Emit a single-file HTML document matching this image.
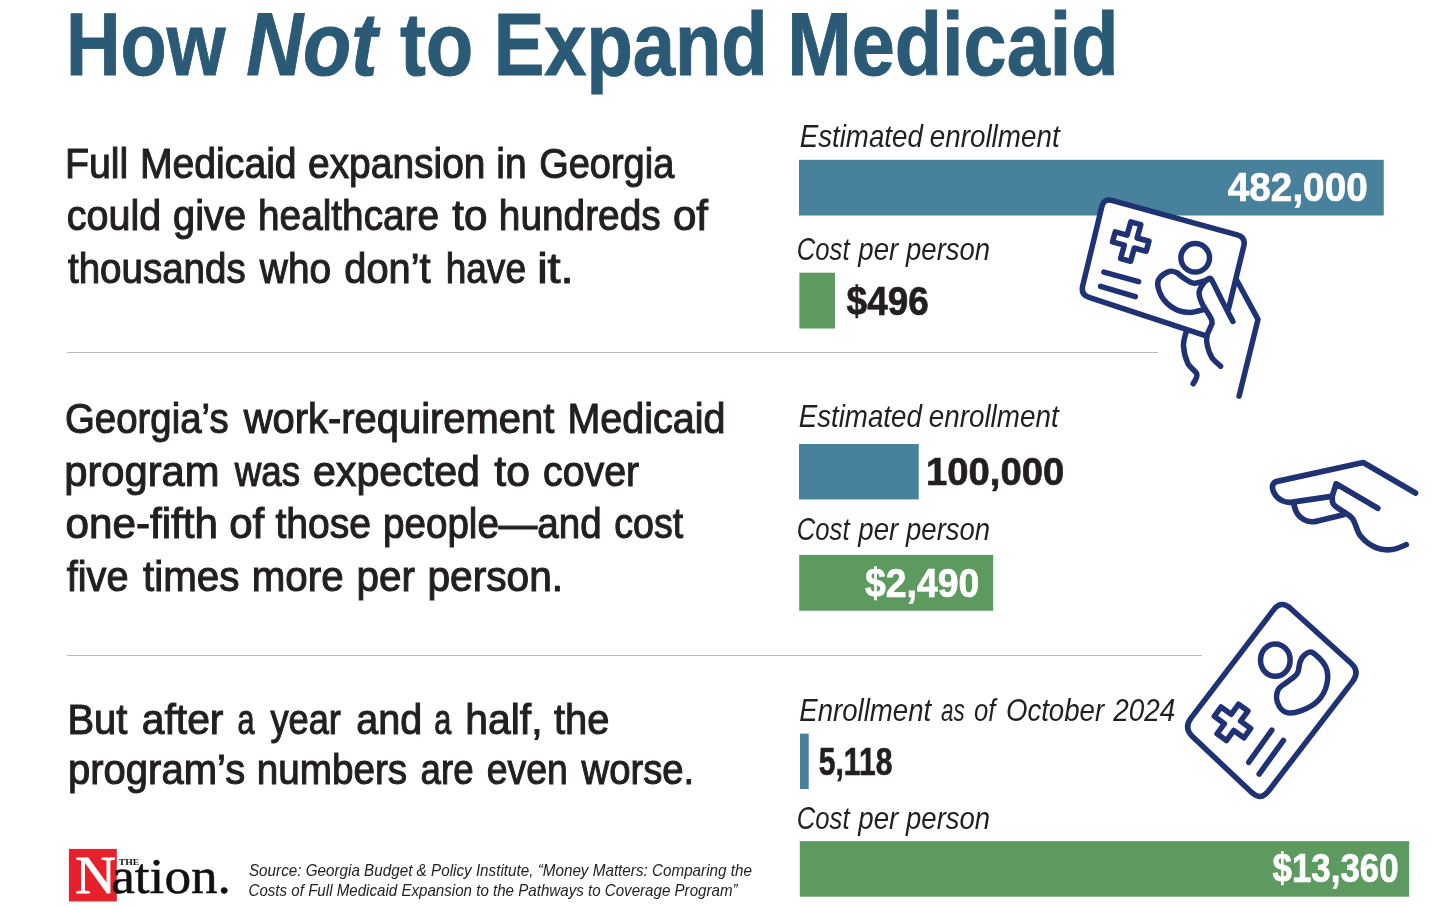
<!DOCTYPE html>
<html lang="en"><head><meta charset="utf-8"><title>How Not to Expand Medicaid</title>
<style>
html,body{margin:0;padding:0;background:#fff;}
body{width:1440px;height:907px;overflow:hidden;font-family:"Liberation Sans",sans-serif;}
svg{display:block}
text{white-space:pre}
</style></head><body>
<svg width="1440" height="907" viewBox="0 0 1440 907">
<rect width="1440" height="907" fill="#ffffff"/>

<g id="rules" stroke="#b9b9b9" stroke-width="1.2">
<line x1="67" y1="352.5" x2="1158" y2="352.5"/>
<line x1="67" y1="655.5" x2="1202" y2="655.5"/>
</g>
<g id="bars">
<rect x="799" y="159.8" width="584.75" height="55.70" fill="#47819b"/>
<rect x="799.4" y="272.7" width="35.60" height="55.80" fill="#5d9a5f"/>
<rect x="799" y="444" width="119.75" height="55.40" fill="#47819b"/>
<rect x="799.2" y="554.9" width="194.00" height="55.80" fill="#5d9a5f"/>
<rect x="800" y="733.6" width="8.70" height="55.40" fill="#47819b"/>
<rect x="799.8" y="841.1" width="609.40" height="55.60" fill="#5d9a5f"/>
</g>
<rect x="68.9" y="848.9" width="47.9" height="52.5" fill="#e6212b"/>

<g id="texts">
<text transform="translate(65.94 74.75) scale(0.8426 1)" font-family='"Liberation Sans", sans-serif' font-size="89.75" fill="#2b5a77" font-weight="700" stroke="#2b5a77" stroke-width="1.0">How</text>
<text transform="translate(246.21 74.75) scale(0.8780 1)" font-family='"Liberation Sans", sans-serif' font-size="89.75" fill="#2b5a77" font-weight="700" font-style="italic" stroke="#2b5a77" stroke-width="1.0">Not</text>
<text transform="translate(399.93 74.75) scale(0.8668 1)" font-family='"Liberation Sans", sans-serif' font-size="89.75" fill="#2b5a77" font-weight="700" stroke="#2b5a77" stroke-width="1.0">to</text>
<text transform="translate(493.68 74.75) scale(0.8451 1)" font-family='"Liberation Sans", sans-serif' font-size="89.75" fill="#2b5a77" font-weight="700" stroke="#2b5a77" stroke-width="1.0">Expand</text>
<text transform="translate(787.29 74.75) scale(0.8625 1)" font-family='"Liberation Sans", sans-serif' font-size="89.75" fill="#2b5a77" font-weight="700" stroke="#2b5a77" stroke-width="1.0">Medicaid</text>
<text transform="translate(64.93 177.55) scale(0.9178 1)" font-family='"Liberation Sans", sans-serif' font-size="42.88" fill="#231f20" stroke="#231f20" stroke-width="1.1">Full</text>
<text transform="translate(139.94 177.55) scale(0.9135 1)" font-family='"Liberation Sans", sans-serif' font-size="42.88" fill="#231f20" stroke="#231f20" stroke-width="1.1">Medicaid</text>
<text transform="translate(308.03 177.55) scale(0.9075 1)" font-family='"Liberation Sans", sans-serif' font-size="42.88" fill="#231f20" stroke="#231f20" stroke-width="1.1">expansion</text>
<text transform="translate(496.31 177.55) scale(0.9103 1)" font-family='"Liberation Sans", sans-serif' font-size="42.88" fill="#231f20" stroke="#231f20" stroke-width="1.1">in</text>
<text transform="translate(539.21 177.55) scale(0.8854 1)" font-family='"Liberation Sans", sans-serif' font-size="42.88" fill="#231f20" stroke="#231f20" stroke-width="1.1">Georgia</text>
<text transform="translate(66.77 230.05) scale(0.9213 1)" font-family='"Liberation Sans", sans-serif' font-size="42.88" fill="#231f20" stroke="#231f20" stroke-width="1.1">could</text>
<text transform="translate(173.02 230.05) scale(0.9292 1)" font-family='"Liberation Sans", sans-serif' font-size="42.88" fill="#231f20" stroke="#231f20" stroke-width="1.1">give</text>
<text transform="translate(258.07 230.05) scale(0.9039 1)" font-family='"Liberation Sans", sans-serif' font-size="42.88" fill="#231f20" stroke="#231f20" stroke-width="1.1">healthcare</text>
<text transform="translate(452.29 230.05) scale(0.9823 1)" font-family='"Liberation Sans", sans-serif' font-size="42.88" fill="#231f20" stroke="#231f20" stroke-width="1.1">to</text>
<text transform="translate(498.82 230.05) scale(0.9055 1)" font-family='"Liberation Sans", sans-serif' font-size="42.88" fill="#231f20" stroke="#231f20" stroke-width="1.1">hundreds</text>
<text transform="translate(672.97 230.05) scale(0.9813 1)" font-family='"Liberation Sans", sans-serif' font-size="42.88" fill="#231f20" stroke="#231f20" stroke-width="1.1">of</text>
<text transform="translate(67.99 282.55) scale(0.8981 1)" font-family='"Liberation Sans", sans-serif' font-size="42.88" fill="#231f20" stroke="#231f20" stroke-width="1.1">thousands</text>
<text transform="translate(259.85 282.55) scale(0.9054 1)" font-family='"Liberation Sans", sans-serif' font-size="42.88" fill="#231f20" stroke="#231f20" stroke-width="1.1">who</text>
<text transform="translate(344.27 282.55) scale(0.9286 1)" font-family='"Liberation Sans", sans-serif' font-size="42.88" fill="#231f20" stroke="#231f20" stroke-width="1.1">don’t</text>
<text transform="translate(445.66 282.55) scale(0.8644 1)" font-family='"Liberation Sans", sans-serif' font-size="42.88" fill="#231f20" stroke="#231f20" stroke-width="1.1">have</text>
<text transform="translate(537.17 282.55) scale(1.0932 1)" font-family='"Liberation Sans", sans-serif' font-size="42.88" fill="#231f20" stroke="#231f20" stroke-width="1.1">it.</text>
<text transform="translate(64.94 433.20) scale(0.8962 1)" font-family='"Liberation Sans", sans-serif' font-size="42.88" fill="#231f20" stroke="#231f20" stroke-width="1.1">Georgia’s</text>
<text transform="translate(243.64 433.20) scale(0.9314 1)" font-family='"Liberation Sans", sans-serif' font-size="42.88" fill="#231f20" stroke="#231f20" stroke-width="1.1">work-requirement</text>
<text transform="translate(567.42 433.20) scale(0.9210 1)" font-family='"Liberation Sans", sans-serif' font-size="42.88" fill="#231f20" stroke="#231f20" stroke-width="1.1">Medicaid</text>
<text transform="translate(64.18 485.70) scale(0.9736 1)" font-family='"Liberation Sans", sans-serif' font-size="42.88" fill="#231f20" stroke="#231f20" stroke-width="1.1">program</text>
<text transform="translate(234.80 485.70) scale(0.8575 1)" font-family='"Liberation Sans", sans-serif' font-size="42.88" fill="#231f20" stroke="#231f20" stroke-width="1.1">was</text>
<text transform="translate(312.99 485.70) scale(0.9599 1)" font-family='"Liberation Sans", sans-serif' font-size="42.88" fill="#231f20" stroke="#231f20" stroke-width="1.1">expected</text>
<text transform="translate(494.30 485.70) scale(0.9965 1)" font-family='"Liberation Sans", sans-serif' font-size="42.88" fill="#231f20" stroke="#231f20" stroke-width="1.1">to</text>
<text transform="translate(543.03 485.70) scale(0.9171 1)" font-family='"Liberation Sans", sans-serif' font-size="42.88" fill="#231f20" stroke="#231f20" stroke-width="1.1">cover</text>
<text transform="translate(65.47 538.20) scale(0.9850 1)" font-family='"Liberation Sans", sans-serif' font-size="42.88" fill="#231f20" stroke="#231f20" stroke-width="1.1">one-fifth</text>
<text transform="translate(229.22 538.20) scale(0.9813 1)" font-family='"Liberation Sans", sans-serif' font-size="42.88" fill="#231f20" stroke="#231f20" stroke-width="1.1">of</text>
<text transform="translate(275.50 538.20) scale(0.9112 1)" font-family='"Liberation Sans", sans-serif' font-size="42.88" fill="#231f20" stroke="#231f20" stroke-width="1.1">those</text>
<text transform="translate(383.09 538.20) scale(0.8989 1)" font-family='"Liberation Sans", sans-serif' font-size="42.88" fill="#231f20" stroke="#231f20" stroke-width="1.1">people—and</text>
<text transform="translate(614.31 538.20) scale(0.8753 1)" font-family='"Liberation Sans", sans-serif' font-size="42.88" fill="#231f20" stroke="#231f20" stroke-width="1.1">cost</text>
<text transform="translate(66.76 590.70) scale(0.9268 1)" font-family='"Liberation Sans", sans-serif' font-size="42.88" fill="#231f20" stroke="#231f20" stroke-width="1.1">five</text>
<text transform="translate(143.02 590.70) scale(0.9418 1)" font-family='"Liberation Sans", sans-serif' font-size="42.88" fill="#231f20" stroke="#231f20" stroke-width="1.1">times</text>
<text transform="translate(251.75 590.70) scale(0.9404 1)" font-family='"Liberation Sans", sans-serif' font-size="42.88" fill="#231f20" stroke="#231f20" stroke-width="1.1">more</text>
<text transform="translate(356.49 590.70) scale(0.9438 1)" font-family='"Liberation Sans", sans-serif' font-size="42.88" fill="#231f20" stroke="#231f20" stroke-width="1.1">per</text>
<text transform="translate(427.48 590.70) scale(0.9486 1)" font-family='"Liberation Sans", sans-serif' font-size="42.88" fill="#231f20" stroke="#231f20" stroke-width="1.1">person.</text>
<text transform="translate(67.39 733.95) scale(0.9316 1)" font-family='"Liberation Sans", sans-serif' font-size="42.88" fill="#231f20" stroke="#231f20" stroke-width="1.1">But</text>
<text transform="translate(141.75 733.95) scale(0.9520 1)" font-family='"Liberation Sans", sans-serif' font-size="42.88" fill="#231f20" stroke="#231f20" stroke-width="1.1">after</text>
<text transform="translate(237.44 733.95) scale(0.7119 1)" font-family='"Liberation Sans", sans-serif' font-size="42.88" fill="#231f20" stroke="#231f20" stroke-width="1.1">a</text>
<text transform="translate(270.46 733.95) scale(0.8452 1)" font-family='"Liberation Sans", sans-serif' font-size="42.88" fill="#231f20" stroke="#231f20" stroke-width="1.1">year</text>
<text transform="translate(356.27 733.95) scale(0.9217 1)" font-family='"Liberation Sans", sans-serif' font-size="42.88" fill="#231f20" stroke="#231f20" stroke-width="1.1">and</text>
<text transform="translate(434.24 733.95) scale(0.7119 1)" font-family='"Liberation Sans", sans-serif' font-size="42.88" fill="#231f20" stroke="#231f20" stroke-width="1.1">a</text>
<text transform="translate(465.37 733.95) scale(0.9520 1)" font-family='"Liberation Sans", sans-serif' font-size="42.88" fill="#231f20" stroke="#231f20" stroke-width="1.1">half,</text>
<text transform="translate(554.01 733.95) scale(0.9293 1)" font-family='"Liberation Sans", sans-serif' font-size="42.88" fill="#231f20" stroke="#231f20" stroke-width="1.1">the</text>
<text transform="translate(68.01 784.45) scale(0.9335 1)" font-family='"Liberation Sans", sans-serif' font-size="42.88" fill="#231f20" stroke="#231f20" stroke-width="1.1">program’s</text>
<text transform="translate(256.83 784.45) scale(0.9015 1)" font-family='"Liberation Sans", sans-serif' font-size="42.88" fill="#231f20" stroke="#231f20" stroke-width="1.1">numbers</text>
<text transform="translate(420.58 784.45) scale(0.8542 1)" font-family='"Liberation Sans", sans-serif' font-size="42.88" fill="#231f20" stroke="#231f20" stroke-width="1.1">are</text>
<text transform="translate(486.81 784.45) scale(0.8718 1)" font-family='"Liberation Sans", sans-serif' font-size="42.88" fill="#231f20" stroke="#231f20" stroke-width="1.1">even</text>
<text transform="translate(581.59 784.45) scale(0.8918 1)" font-family='"Liberation Sans", sans-serif' font-size="42.88" fill="#231f20" stroke="#231f20" stroke-width="1.1">worse.</text>
<text transform="translate(799.67 147.20) scale(0.8784 1)" font-family='"Liberation Sans", sans-serif' font-size="31.54" fill="#231f20" font-style="italic">Estimated</text>
<text transform="translate(929.73 147.20) scale(0.8828 1)" font-family='"Liberation Sans", sans-serif' font-size="31.54" fill="#231f20" font-style="italic">enrollment</text>
<text transform="translate(796.80 260.00) scale(0.8144 1)" font-family='"Liberation Sans", sans-serif' font-size="31.54" fill="#231f20" font-style="italic">Cost</text>
<text transform="translate(858.26 260.00) scale(0.8769 1)" font-family='"Liberation Sans", sans-serif' font-size="31.54" fill="#231f20" font-style="italic">per</text>
<text transform="translate(906.06 260.00) scale(0.8716 1)" font-family='"Liberation Sans", sans-serif' font-size="31.54" fill="#231f20" font-style="italic">person</text>
<text transform="translate(798.67 426.50) scale(0.8784 1)" font-family='"Liberation Sans", sans-serif' font-size="31.54" fill="#231f20" font-style="italic">Estimated</text>
<text transform="translate(928.73 426.50) scale(0.8828 1)" font-family='"Liberation Sans", sans-serif' font-size="31.54" fill="#231f20" font-style="italic">enrollment</text>
<text transform="translate(796.80 540.40) scale(0.8144 1)" font-family='"Liberation Sans", sans-serif' font-size="31.54" fill="#231f20" font-style="italic">Cost</text>
<text transform="translate(858.26 540.40) scale(0.8769 1)" font-family='"Liberation Sans", sans-serif' font-size="31.54" fill="#231f20" font-style="italic">per</text>
<text transform="translate(906.06 540.40) scale(0.8716 1)" font-family='"Liberation Sans", sans-serif' font-size="31.54" fill="#231f20" font-style="italic">person</text>
<text transform="translate(799.27 720.60) scale(0.8754 1)" font-family='"Liberation Sans", sans-serif' font-size="31.54" fill="#231f20" font-style="italic">Enrollment</text>
<text transform="translate(941.05 720.60) scale(0.7115 1)" font-family='"Liberation Sans", sans-serif' font-size="31.54" fill="#231f20" font-style="italic">as</text>
<text transform="translate(973.90 720.60) scale(0.8139 1)" font-family='"Liberation Sans", sans-serif' font-size="31.54" fill="#231f20" font-style="italic">of</text>
<text transform="translate(1005.91 720.60) scale(0.8756 1)" font-family='"Liberation Sans", sans-serif' font-size="31.54" fill="#231f20" font-style="italic">October</text>
<text transform="translate(1113.24 720.60) scale(0.8859 1)" font-family='"Liberation Sans", sans-serif' font-size="31.54" fill="#231f20" font-style="italic">2024</text>
<text transform="translate(796.80 828.80) scale(0.8144 1)" font-family='"Liberation Sans", sans-serif' font-size="31.54" fill="#231f20" font-style="italic">Cost</text>
<text transform="translate(858.26 828.80) scale(0.8769 1)" font-family='"Liberation Sans", sans-serif' font-size="31.54" fill="#231f20" font-style="italic">per</text>
<text transform="translate(906.06 828.80) scale(0.8716 1)" font-family='"Liberation Sans", sans-serif' font-size="31.54" fill="#231f20" font-style="italic">person</text>
<text transform="translate(1227.84 201.15) scale(0.9612 1)" font-family='"Liberation Sans", sans-serif' font-size="40.26" fill="#ffffff" font-weight="700" stroke="#ffffff" stroke-width="0.7">482,000</text>
<text transform="translate(846.62 315.35) scale(0.9230 1)" font-family='"Liberation Sans", sans-serif' font-size="39.97" fill="#231f20" font-weight="700" stroke="#231f20" stroke-width="0.7">$496</text>
<text transform="translate(926.05 484.85) scale(0.9675 1)" font-family='"Liberation Sans", sans-serif' font-size="39.53" fill="#231f20" font-weight="700" stroke="#231f20" stroke-width="0.7">100,000</text>
<text transform="translate(864.93 597.35) scale(0.9329 1)" font-family='"Liberation Sans", sans-serif' font-size="40.12" fill="#ffffff" font-weight="700" stroke="#ffffff" stroke-width="0.7">$2,490</text>
<text transform="translate(818.80 775.35) scale(0.7606 1)" font-family='"Liberation Sans", sans-serif' font-size="39.53" fill="#231f20" font-weight="700" stroke="#231f20" stroke-width="0.7">5,118</text>
<text transform="translate(1272.51 881.75) scale(0.8735 1)" font-family='"Liberation Sans", sans-serif' font-size="39.97" fill="#ffffff" font-weight="700" stroke="#ffffff" stroke-width="0.7">$13,360</text>
<text transform="translate(248.96 875.80) scale(0.8883 1)" font-family='"Liberation Sans", sans-serif' font-size="17.15" fill="#222" font-style="italic">Source: Georgia Budget &amp; Policy Institute, “Money Matters: Comparing the</text>
<text transform="translate(248.49 895.60) scale(0.8824 1)" font-family='"Liberation Sans", sans-serif' font-size="17.15" fill="#222" font-style="italic">Costs of Full Medicaid Expansion to the Pathways to Coverage Program”</text>
<text transform="translate(75.35 892.90) scale(1.0666 1)" font-family='"Liberation Serif", serif' font-size="52.84" fill="#ffffff" stroke="#ffffff" stroke-width="0.8">N</text>
<text transform="translate(111.20 893.35) scale(1.0671 1)" font-family='"Liberation Serif", serif' font-size="49.89" fill="#111" stroke="#111" stroke-width="0.5">ation.</text>
<text transform="translate(118.75 864.60) scale(1.1241 1)" font-family='"Liberation Serif", serif' font-size="8.70" fill="#111" font-weight="700">THE</text>
</g>

<g id="icon-card-hand" fill="none" stroke="#1f3274" stroke-width="5.5" stroke-linecap="round" stroke-linejoin="round">
<path d="M1112.6 200.6 L1237.2 234.9 Q1245.9 237.3 1243.8 246.1 L1223.4 331.8 Q1221.3 340.6 1212.7 337.8 L1089.2 297.4 Q1080.6 294.6 1082.7 285.9 L1101.8 206.9 Q1103.9 198.2 1112.6 200.6 Z" fill="#fff" stroke="none"/>
<path d="M1228.5 308.8 L1243.8 246.0 Q1245.9 237.3 1237.2 234.9 L1112.6 200.6 Q1103.9 198.2 1101.8 206.9 L1082.7 285.9 Q1080.6 294.6 1089.1 297.4 L1206.8 336.2"/>
<path d="M-5.2 -19.0 L5.2 -19.0 L5.2 -5.2 L17.5 -5.2 L17.5 5.2 L5.2 5.2 L5.2 19.0 L-5.2 19.0 L-5.2 5.2 L-17.5 5.2 L-17.5 -5.2 L-5.2 -5.2 Z" transform="translate(1130.7 241.6) rotate(15.5)"/>
<path d="M1103.9 272.1 L1138.6 281.7 M1100.6 286.4 L1135.3 296.6"/>
<circle cx="1195.2" cy="257.8" r="14.3"/>
<path d="M1208.2 279.7 C1205.8 280.3 1198.2 283.5 1194.1 283.2 C1190.0 282.9 1186.4 279.7 1183.5 277.9 C1180.6 276.1 1178.8 273.7 1176.5 272.6 C1174.2 271.5 1172.2 270.5 1169.4 271.4 C1166.6 272.3 1161.6 275.5 1159.7 277.9 C1157.8 280.3 1157.2 282.2 1157.9 285.9 C1158.6 289.6 1161.0 296.0 1164.1 300.0 C1167.2 304.0 1172.1 307.6 1176.5 309.7 C1180.9 311.8 1186.2 312.4 1190.6 312.4 C1195.0 312.4 1200.9 310.1 1202.9 309.7"/>
<path d="M1232.9 321.5 C1231.1 318.0 1225.4 307.2 1222.0 300.5 C1218.6 293.8 1214.6 285.2 1212.5 281.5 C1210.4 277.8 1211.1 277.9 1209.5 278.3 C1207.9 278.7 1204.6 281.7 1202.9 284.1 C1201.2 286.5 1199.2 289.7 1199.1 292.9 C1199.0 296.1 1200.0 298.9 1202.1 303.5 C1204.2 308.1 1210.5 316.2 1211.8 320.3 C1213.1 324.4 1210.8 325.6 1210.0 328.2 C1209.2 330.8 1207.2 333.2 1206.8 336.2 C1206.4 339.1 1206.6 342.4 1207.4 345.9 C1208.2 349.4 1209.6 354.0 1211.8 357.4 C1214.0 360.8 1219.1 364.7 1220.6 366.2"/>
<path d="M1236.5 279.7 L1258 319.4 L1239.1 396.2"/>
<path d="M1186.2 331.8 C1185.8 334.1 1183.2 340.6 1183.5 345.9 C1183.8 351.2 1185.7 358.8 1187.9 363.5 C1190.1 368.2 1195.9 370.7 1196.8 374.1 C1197.7 377.5 1193.8 382.2 1193.2 383.8"/>
</g>

<g id="icon-hand" transform="translate(1260 450) scale(0.13235)" fill="none" stroke="#1f3274" stroke-width="43" stroke-linecap="round" stroke-linejoin="round">
<path d="M1175 325 L780 95 L130 237 C88 247 88 285 104 320 C132 378 190 402 245 394 L540 350"/>
<path d="M890 440 L575 255 L545 350 C546.7 360.0 542.5 391.7 555.0 410.0 C567.5 428.3 595.8 441.7 620.0 460.0 C644.2 478.3 676.7 488.3 700.0 520.0 C723.3 551.7 730.0 613.3 760.0 650.0 C790.0 686.7 840.0 723.0 880.0 740.0 C920.0 757.0 962.5 756.2 1000.0 752.0 C1037.5 747.8 1087.5 721.2 1105.0 715.0"/>
<path d="M255 400 C262 455 285 500 328 524 C362 544 400 546 435 536 L630 490"/>
</g>

<g id="icon-card" transform="translate(1170 590) scale(0.23148)" fill="none" stroke="#1f3274" stroke-width="23.8" stroke-linecap="round" stroke-linejoin="round">
<path d="M520.8 79.9 L781.2 315.1 Q822.0 352.0 788.5 395.6 L425.5 868.4 Q392.0 912.0 352.0 874.2 L98.0 633.8 Q58.0 596.0 91.4 552.3 L446.6 86.7 Q480.0 43.0 520.8 79.9 Z" fill="#fff"/>
<ellipse cx="455" cy="303" rx="64" ry="70"/>
<path d="M615.0 270.0 C630.0 278.3 661.5 307.5 672.0 330.0 C682.5 352.5 683.3 380.3 678.0 405.0 C672.7 429.7 658.8 458.5 640.0 478.0 C621.2 497.5 588.3 513.7 565.0 522.0 C541.7 530.3 516.8 534.2 500.0 528.0 C483.2 521.8 469.3 501.3 464.0 485.0 C458.7 468.7 460.3 445.0 468.0 430.0 C475.7 415.0 496.3 406.7 510.0 395.0 C523.7 383.3 541.3 374.2 550.0 360.0 C558.7 345.8 556.7 323.3 562.0 310.0 C567.3 296.7 573.2 286.7 582.0 280.0 C590.8 273.3 600.0 261.7 615.0 270.0 Z"/>
<path d="M-25.0 -79.0 L25.0 -79.0 L25.0 -25.0 L79.0 -25.0 L79.0 25.0 L25.0 25.0 L25.0 79.0 L-25.0 79.0 L-25.0 25.0 L-79.0 25.0 L-79.0 -25.0 L-25.0 -25.0 Z" transform="translate(270 572) rotate(36)"/>
<path d="M440 605 L340 745 M490 650 L385 795"/>
</g>

</svg>
</body></html>
